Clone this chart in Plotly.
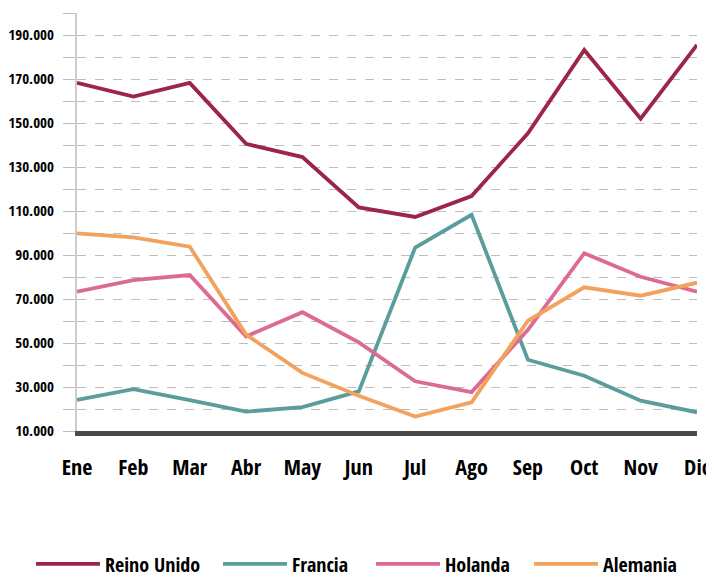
import plotly.graph_objects as go

months = ["Ene", "Feb", "Mar", "Abr", "May", "Jun", "Jul", "Ago", "Sep", "Oct", "Nov", "Dic"]
reino_unido = [168300, 162000, 168200, 140500, 134500, 111600, 107300, 116800, 145300, 183200, 152000, 185500]
francia = [24100, 29000, 24000, 18800, 20900, 28000, 93400, 108300, 42400, 35100, 23800, 18500]
holanda = [73300, 78600, 80900, 53000, 64000, 50300, 32600, 27700, 56000, 90800, 80100, 73300]
alemania = [99800, 98000, 93800, 53800, 36400, 26000, 16600, 23000, 60100, 75300, 71500, 77400]

series = [
    ("Reino Unido", reino_unido, "#9c2548"),
    ("Francia", francia, "#5b9d9c"),
    ("Holanda", holanda, "#dc6b93"),
    ("Alemania", alemania, "#f3a25e"),
]
legend_x = [-0.0742, 0.2274, 0.4742, 0.729]

FONT = "Open Sans Condensed"
legend_ids = ["legend", "legend2", "legend3", "legend4"]

fig = go.Figure()
for (name, vals, color), lid in zip(series, legend_ids):
    fig.add_trace(go.Scatter(
        x=months, y=vals, name=name, mode="lines",
        line=dict(color=color, width=3.8),
        cliponaxis=False, legend=lid,
    ))

legend_style = dict(
    orientation="h", xanchor="left", y=-0.318, yanchor="middle",
    font=dict(family=FONT, size=20, color="black", weight="bold"),
    itemwidth=64, bgcolor="rgba(0,0,0,0)",
)
layout_legends = {lid: dict(legend_style, x=lx) for lid, lx in zip(legend_ids, legend_x)}

fig.update_layout(
    width=714, height=578,
    margin=dict(l=69, r=25, t=5, b=155, autoexpand=False),
    paper_bgcolor="white", plot_bgcolor="white",
    separators=",.",
    showlegend=True,
    font=dict(family=FONT, color="black"),
    **layout_legends,
)

fig.update_xaxes(
    type="category", range=[0, 11], automargin=False,
    showgrid=False, zeroline=False,
    showline=True, linecolor="#4a4a4a", linewidth=5,
    ticks="", ticklabelstandoff=13,
    tickfont=dict(family=FONT, size=22, color="black", weight="bold"),
)

fig.update_yaxes(
    range=[10000, 200000], automargin=False,
    tick0=10000, dtick=20000,
    tickformat=",d",
    showgrid=True, gridcolor="#bdbdbd", griddash="dash", gridwidth=1,
    minor=dict(dtick=10000, tick0=10000, showgrid=True, gridcolor="#bdbdbd", griddash="dash",
               gridwidth=1, ticks="outside", ticklen=12, tickcolor="#bdbdbd"),
    ticks="outside", ticklen=12, tickcolor="#bdbdbd",
    showline=True, linecolor="#cccccc", linewidth=2,
    zeroline=False, ticklabelstandoff=6,
    tickfont=dict(family=FONT, size=15, color="black", weight="bold"),
)

fig.write_html("out.html")
